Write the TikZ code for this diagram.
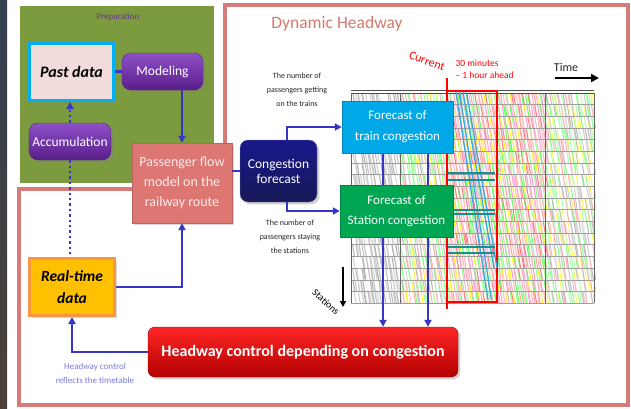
\documentclass[tikz,border=0pt]{standalone}
\usepackage{fontspec}
\setmainfont{Carlito}
\usetikzlibrary{arrows.meta,shadows,calc}
\definecolor{olive}{HTML}{7B9B3E}
\definecolor{frame}{HTML}{D67B79}
\definecolor{arrowblue}{HTML}{3535C8}
\definecolor{purp}{HTML}{7030A0}
\definecolor{purpL}{HTML}{8E50C8}
\definecolor{purpD}{HTML}{5A1E8A}
\definecolor{salmon}{HTML}{DC7774}
\definecolor{navy}{HTML}{1E1E6E}
\definecolor{cyanbox}{HTML}{00A8E8}
\definecolor{greenbox}{HTML}{00A651}
\definecolor{pinkfill}{HTML}{F2DCDB}
\definecolor{cyanedge}{HTML}{00B0F0}
\definecolor{gold}{HTML}{FFC000}
\definecolor{orangeedge}{HTML}{F79646}
\definecolor{titlecol}{HTML}{D27A6E}
\definecolor{lav}{HTML}{7B7BE0}
\definecolor{diag}{HTML}{3BA8E0}
\definecolor{teal2}{HTML}{178F8F}
\definecolor{stripT}{HTML}{33404F}
\definecolor{stripB}{HTML}{4A4038}
\pgfdeclarelayer{bg}
\pgfsetlayers{bg,main}
\begin{document}
\begin{tikzpicture}[x=1pt,y=-1pt,
  conn/.style={draw=arrowblue, line width=2.4pt},
  arr/.style={conn, -{Triangle[length=7pt,width=7pt]}},
  dotconn/.style={draw=arrowblue, line width=2.4pt, dash pattern=on 2.4pt off 3pt},
  pillbox/.style={rounded corners=9pt, top color=purpL, bottom color=purpD, draw=purpD,
     text=white, font=\fontsize{13.5}{15}\selectfont, drop shadow={opacity=0.35}},
  smalltxt/.style={align=center, text=black!85, font=\fontsize{8}{14}\selectfont},
]
\useasboundingbox (0,0) rectangle (631,408);

% ---------- nodes ----------
\node[draw=cyanedge, line width=3pt, fill=pinkfill, minimum width=84pt, minimum height=57pt,
      font=\fontsize{16}{18}\selectfont\bfseries\itshape, drop shadow={opacity=0.3}] (pd) at (71.5,72) {Past data};
\node[pillbox, minimum width=81pt, minimum height=37pt] (mod) at (162.5,71.5) {Modeling};
\node[pillbox, minimum width=80pt, minimum height=37pt] (acc) at (70,141.5) {Accumulation};
\node[fill=salmon, draw=salmon!85!black, minimum width=100pt, minimum height=80pt, align=center,
      text=white!92!red, font=\fontsize{14}{20}\selectfont, drop shadow={opacity=0.3}] (pf) at (182,183)
      {Passenger flow\\model on the\\railway route};
\node[rounded corners=8pt, top color=navy!80!blue, bottom color=navy!80!black, draw=navy!60!white,
      minimum width=77pt, minimum height=62pt, align=center, text=white,
      font=\fontsize{13.5}{15}\selectfont, drop shadow={opacity=0.35}] (cf) at (278.5,171) {Congestion\\forecast};
\node[fill=cyanbox, draw=cyanbox!80!black, minimum width=111pt, minimum height=52pt, align=center,
      text=white, font=\fontsize{13}{21}\selectfont] (tr) at (397.5,127) {Forecast of\\train congestion};
\node[fill=greenbox, draw=greenbox!80!black, minimum width=113pt, minimum height=52pt, align=center,
      text=white, font=\fontsize{13}{20}\selectfont] (st) at (396.5,211) {Forecast of\\Station congestion};
\node[fill=gold, draw=orangeedge, line width=3pt, minimum width=85pt, minimum height=57pt, align=center,
      font=\fontsize{15.5}{22}\selectfont\bfseries\itshape, drop shadow={opacity=0.3}] (rt) at (72,287) {Real-time\\data};
\node[rounded corners=7pt, top color=red!85!white, bottom color=red!70!black, draw=red!60!black,
      minimum width=310pt, minimum height=50pt, text=white,
      font=\fontsize{16}{18}\selectfont\bfseries, drop shadow={opacity=0.35}] (hw) at (303,352)
      {Headway control depending on congestion};

% ---------- text labels ----------
\node[text=purp, font=\fontsize{9}{10}\selectfont] (prep) at (118,17) {Preparation};
\node[text=titlecol, font=\fontsize{17.5}{20}\selectfont] (title) at (337,24) {Dynamic Headway};
\node[smalltxt] (getting) at (297,90) {The number of\\passengers getting\\on the trains};
\node[smalltxt] (staying) at (290,237) {The number of\\passengers staying\\the stations};
\node[text=red, rotate=-20, font=\fontsize{12}{13}\selectfont] (curtxt) at (427,61) {Current};
\node[text=red, anchor=west, align=left, font=\fontsize{9.5}{12}\selectfont] (ahead) at (452,69) {30 minutes\\– 1 hour ahead};
\node[text=black!85, font=\fontsize{12}{13}\selectfont] (timetxt) at (566,67) {Time};
\node[text=black, rotate=-42, inner sep=1pt, font=\fontsize{10}{11}\selectfont] (stattxt) at (326,302) {Stations};
\node[text=lav, align=center, font=\fontsize{9}{14}\selectfont] (refl) at (95,373) {Headway control\\reflects the timetable};

\coordinate (t1) at (555,78);
\coordinate (t2) at (599,78);
\coordinate (s1) at (343,267);
\coordinate (s2) at (343,307);
\coordinate (c1) at (447,78);
\coordinate (c2) at (447,309);

% ---------- connectors (main layer) ----------
\draw[conn] (mod.west) -- (mod.west -| pd.east);
\draw[arr] (pf.north |- mod.south) -- (pf.north);
\draw[dotconn, -{Triangle[length=7pt,width=7pt]}] (acc.north) -- (acc.north |- pd.south);
\draw[dotconn] (acc.south) -- (acc.south |- rt.north);
\draw[arr] (rt.east) -| (pf.south);
\draw[conn] (pf.east |- cf.west) -- (cf.west);
\draw[arr] ([xshift=8.5pt]cf.north) |- (tr.west);
\draw[arr] ([xshift=8.5pt]cf.south) |- (st.west);
\draw[arr] (hw.west) -| (rt.south);
\draw[line width=2.6pt, -{Triangle[length=8pt,width=8pt]}] (t1) -- (t2);
\draw[line width=1.8pt, -{Triangle[length=6pt,width=6pt]}] (s1) -- (s2);

% ---------- background layer ----------
\begin{pgfonlayer}{bg}
\fill[white] (0,0) rectangle (631,408);
\shade[top color=stripT, bottom color=stripB] (0,0) rectangle (7,408);
\fill[olive] (20,6) rectangle (214,183);
\draw[frame, line width=4pt] (19,189) -- (225,189) -- (225,5) -- (628,5) -- (628,405) -- (19,405) -- cycle;

% timetable grid
\pgfmathsetseed{12}
\pgfmathdeclarerandomlist{zoneA}{{gray!50}{gray!35}{gray!60}{white}{gray!45}}
\pgfmathdeclarerandomlist{zoneB}{{green!50}{yellow!75}{gray!50}{red!30}{green!35}{gray!40}{white}}
\pgfmathdeclarerandomlist{zoneC}{{red!50}{red!35}{green!60}{yellow!80}{magenta!35}{green!40}{pink}{red!25}}
\pgfmathdeclarerandomlist{zoneD}{{gray!50}{green!45}{red!30}{gray!35}{yellow!55}{green!30}{white}}
\foreach \r in {0,...,17}{
  \pgfmathsetmacro\ya{93+\r*11.67}
  \pgfmathsetmacro\yb{\ya+11.67}
  \foreach \x in {352,354,...,592}{
    \ifdim\x pt<400pt \def\zn{zoneA}\else\ifdim\x pt<447pt \def\zn{zoneB}\else\ifdim\x pt<545pt \def\zn{zoneC}\else\def\zn{zoneD}\fi\fi\fi
    \pgfmathrandomitem{\cc}{\zn}
    \pgfmathsetmacro\dx{rnd*2}
    \draw[\cc, line width=1.1pt] (\x+\dx,\ya) -- (\x+\dx+2,\yb);
  }
}
\foreach \r in {0,...,18}{
  \draw[gray!75, line width=0.45pt] (351,93+\r*11.67) -- (594,93+\r*11.67);
}
\draw[black!70, line width=0.8pt] (351,90) -- (594,90);
\draw[black!70, line width=0.8pt] (351,93) -- (594,93);
\foreach \xx in {351,400,545,594}{
  \draw[black!60, line width=0.8pt] (\xx,93) -- (\xx,303);
}
% current line and window
\draw[red, line width=2.5pt] (c1) -- (c2);
\draw[red, line width=2.5pt] (447,91) -- (497,91) -- (497,302) -- (447,302);
% cyan diagonals
\foreach \a/\b/\e in {456/488/300, 459.5/491.5/300, 463/494/268, 466.5/497/268}{
  \draw[diag, line width=1.3pt] (\a,92) -- (\b,\e);
}
% teal horizontals
\foreach \yy in {173,180,210,214,247,253}{
  \draw[teal2, line width=1.4pt] (448,\yy) -- (495,\yy);
}
% vertical arrows from train forecast to headway control (behind station box)
\draw[arr] ([xshift=-14.5pt]tr.south) -- ([xshift=-14.5pt]tr.south |- hw.north);
\draw[arr] ([xshift=30.5pt]tr.south) -- ([xshift=30.5pt]tr.south |- hw.north);
\end{pgfonlayer}
\end{tikzpicture}
\end{document}
